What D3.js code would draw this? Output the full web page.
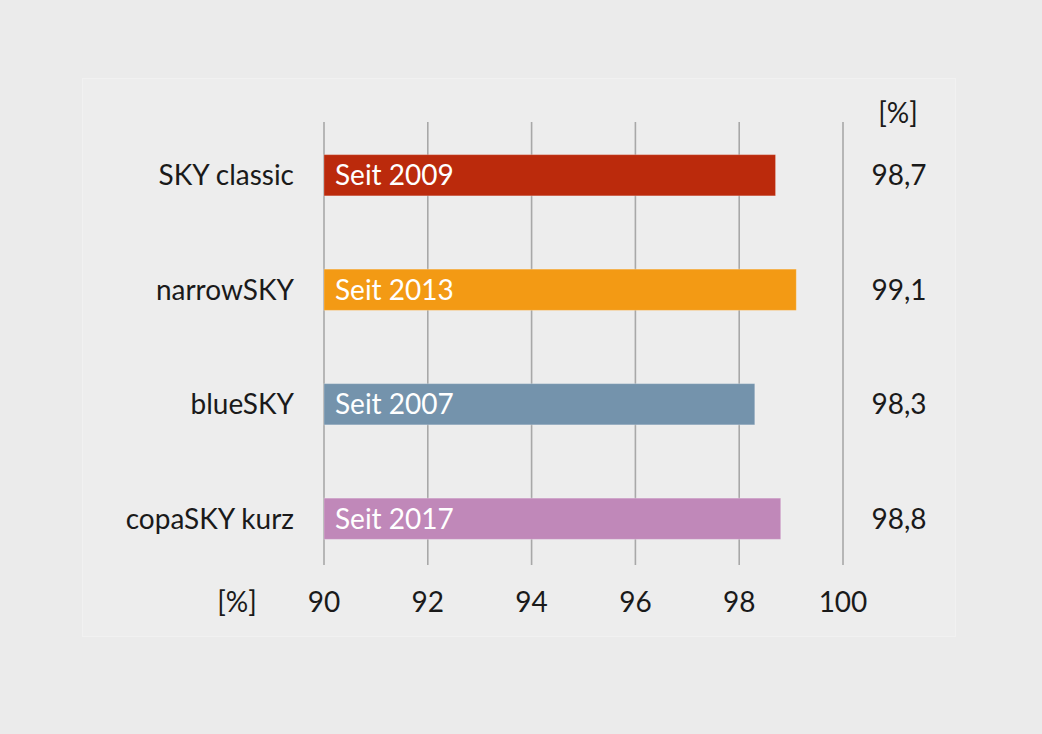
<!DOCTYPE html>
<html>
<head>
<meta charset="utf-8">
<script src="https://cdn.jsdelivr.net/npm/d3@7"></script>
<style>
  body { margin: 0; background: #ebebeb; }
  text { font-family: Lato, "Open Sans", sans-serif; }
</style>
</head>
<body>
<div id="chart-area"></div>
<script>
// data
var categories = ["SKY classic", "narrowSKY", "blueSKY", "copaSKY kurz"];
var values = [98.7, 99.1, 98.3, 98.8];
var valueLabels = ["98,7", "99,1", "98,3", "98,8"];
var barLabels = ["Seit 2009", "Seit 2013", "Seit 2007", "Seit 2017"];
var barColors = ["#bb2a0c", "#f39a14", "#7493ac", "#c088b9"];
var tickValues = [90, 92, 94, 96, 98, 100];

var width = 1042, height = 734;
var fontSize = "28px";

var svg = d3.select("#chart-area")
  .append("svg")
  .attr("width", width)
  .attr("height", height);

// inner panel
svg.append("rect")
  .attr("x", 82.5).attr("y", 78.5)
  .attr("width", 873).attr("height", 558)
  .attr("fill", "#ededed")
  .attr("stroke", "#f1f1f1");

var x = d3.scaleLinear()
  .domain([90, 100])
  .range([324, 843]);

var y = d3.scaleBand()
  .domain(categories)
  .range([118, 576])
  .paddingInner(0.64)
  .paddingOuter(0.32);

// grid lines
svg.append("g")
  .selectAll("line")
  .data(tickValues)
  .enter().append("line")
  .attr("x1", function(d) { return x(d); })
  .attr("x2", function(d) { return x(d); })
  .attr("y1", 122)
  .attr("y2", 565)
  .attr("stroke", "#a8a8a8")
  .attr("stroke-width", 1.6);

// bars
svg.append("g")
  .selectAll("rect")
  .data(values)
  .enter().append("rect")
  .attr("x", x(90))
  .attr("y", function(d, i) { return y(categories[i]); })
  .attr("width", function(d) { return x(d) - x(90); })
  .attr("height", y.bandwidth())
  .attr("fill", function(d, i) { return barColors[i]; })
  .attr("stroke", "#ffffff")
  .attr("stroke-opacity", 0.25)
  .attr("stroke-width", 1);

// labels inside bars
svg.append("g")
  .selectAll("text")
  .data(barLabels)
  .enter().append("text")
  .attr("x", x(90) + 11)
  .attr("y", function(d, i) { return y(categories[i]) + y.bandwidth() / 2; })
  .attr("dy", "0.35em")
  .attr("font-size", fontSize)
  .attr("fill", "#ffffff")
  .text(function(d) { return d; });

// category labels
svg.append("g")
  .selectAll("text")
  .data(categories)
  .enter().append("text")
  .attr("x", 294)
  .attr("y", function(d) { return y(d) + y.bandwidth() / 2; })
  .attr("dy", "0.35em")
  .attr("text-anchor", "end")
  .attr("font-size", fontSize)
  .attr("fill", "#1a1a1a")
  .text(function(d) { return d; });

// value labels at right
svg.append("g")
  .selectAll("text")
  .data(valueLabels)
  .enter().append("text")
  .attr("x", 899)
  .attr("y", function(d, i) { return y(categories[i]) + y.bandwidth() / 2; })
  .attr("dy", "0.35em")
  .attr("text-anchor", "middle")
  .attr("font-size", fontSize)
  .attr("fill", "#1a1a1a")
  .text(function(d) { return d; });

svg.append("text")
  .attr("x", 898)
  .attr("y", 113)
  .attr("dy", "0.35em")
  .attr("text-anchor", "middle")
  .attr("font-size", fontSize)
  .attr("fill", "#1a1a1a")
  .text("[%]");

// x axis tick labels
svg.append("g")
  .selectAll("text")
  .data(tickValues)
  .enter().append("text")
  .attr("x", function(d) { return x(d); })
  .attr("y", 602)
  .attr("dy", "0.35em")
  .attr("text-anchor", "middle")
  .attr("font-size", fontSize)
  .attr("fill", "#1a1a1a")
  .text(function(d) { return d; });

svg.append("text")
  .attr("x", 237)
  .attr("y", 602)
  .attr("dy", "0.35em")
  .attr("text-anchor", "middle")
  .attr("font-size", fontSize)
  .attr("fill", "#1a1a1a")
  .text("[%]");
</script>
</body>
</html>
